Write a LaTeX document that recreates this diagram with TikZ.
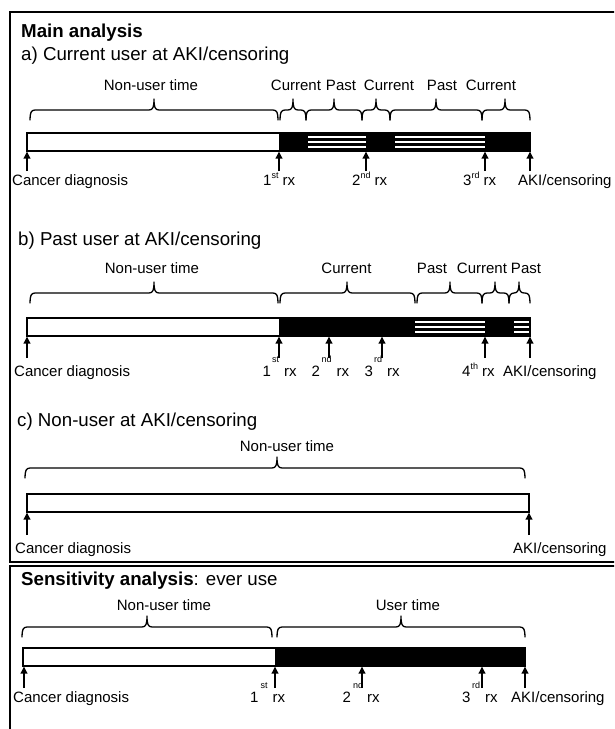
\documentclass[tikz,border=0pt]{standalone}
\usepackage{fontspec}
\setmainfont{Liberation Sans}
\usetikzlibrary{arrows.meta}
\tikzset{
  lbl/.style={font=\fontsize{15}{18}\selectfont, inner sep=0pt, anchor=base},
  lblw/.style={lbl, anchor=base west},
  ttl/.style={font=\fontsize{18.7}{22}\selectfont, inner sep=0pt, anchor=base west},
  bracepath/.style={line width=1.3pt, line cap=round, line join=round},
  upar/.style={line width=1.8pt, -{Triangle[width=6.5pt,length=7pt]}},
  frame/.style={line width=2pt},
  barline/.style={line width=1.6pt},
  stripe/.style={white, line width=1.8pt},
}
% brace: x1, x2, xtip, yline
\newcommand\mybrace[4]{%
  \draw[bracepath] (#1,#4+10) .. controls (#1,#4+3) and (#1+1,#4) .. (#1+5,#4)
    -- (#3-5,#4) .. controls (#3-1,#4) and (#3,#4-3) .. (#3,#4-11)
    .. controls (#3,#4-3) and (#3+1,#4) .. (#3+5,#4)
    -- (#2-5,#4) .. controls (#2-1,#4) and (#2,#4+3) .. (#2,#4+10);}
% striped segment: x1, x2, ytop (bar height 18)
\newcommand\mystripes[3]{%
  \fill[black] (#1,#3) rectangle (#2,#3+18);
  \foreach \d in {3.8,9,14.2} \draw[stripe] (#1,#3+\d) -- (#2,#3+\d);}
\newcommand\lowsup[1]{\raisebox{6.5pt}{\fontsize{9}{9}\selectfont #1}}
\newcommand\highsup[1]{\raisebox{14pt}{\fontsize{9}{9}\selectfont #1}}
\begin{document}
\begin{tikzpicture}[x=1pt,y=-1pt]
\clip (0,0) rectangle (614,729);
\fill[white] (0,0) rectangle (614,729);
% frames
\draw[frame] (700,12) -- (10,12) -- (10,562) -- (700,562);
\draw[frame] (700,566) -- (10,566) -- (10,800);

% ---------- panel a ----------
\node[ttl, font=\fontsize{18.7}{22}\selectfont\bfseries] (tmain) at (21,37) {Main analysis};
\node[ttl] (ta) at (21,60) {a) Current user at AKI/censoring};
\node[lbl] (an) at (151,90) {Non-user time};
\node[lbl] (ac1) at (296,90) {Current};
\node[lbl] (ap1) at (341,90) {Past};
\node[lbl] (ac2) at (389,90) {Current};
\node[lbl] (ap2) at (442,90) {Past};
\node[lbl] (ac3) at (491,90) {Current};
\mybrace{30}{278}{154}{110}
\mybrace{280}{306}{293}{110}
\mybrace{306}{362}{334}{110}
\mybrace{362}{390}{376}{110}
\mybrace{390}{482}{436}{110}
\mybrace{482}{530}{505}{110}
\fill[black] (279,133) rectangle (530,151);
\mystripes{308}{366}{133}
\mystripes{395}{485}{133}
\draw[barline] (27,133) rectangle (530,151);
\foreach \x in {27,279,366,485,530} \draw[upar] (\x,171) -- (\x,151.5);
\node[lblw] (ad) at (12,185) {Cancer diagnosis};
\node[lblw] (ar1) at (263,185) {1\lowsup{st} rx};
\node[lblw] (ar2) at (352,185) {2\lowsup{nd} rx};
\node[lblw] (ar3) at (463,185) {3\lowsup{rd} rx};
\node[lblw] (aaki) at (518,185) {AKI/censoring};

% ---------- panel b ----------
\node[ttl] (tb) at (18,245) {b) Past user at AKI/censoring};
\node[lbl] (bn) at (152,273) {Non-user time};
\node[lbl] (bc1) at (346.5,273) {Current};
\node[lbl] (bp1) at (432,273) {Past};
\node[lbl] (bc2) at (482,273) {Current};
\node[lbl] (bp2) at (526,273) {Past};
\mybrace{30}{278}{154}{293}
\mybrace{280}{415}{347}{293}
\mybrace{417}{482}{450}{293}
\mybrace{482}{509}{495}{293}
\mybrace{509}{530}{519}{293}
\fill[black] (279,318) rectangle (530,336);
\mystripes{415}{485}{318}
\mystripes{514}{530}{318}
\draw[barline] (27,318) rectangle (530,336);
\foreach \x in {27,279,329,382,485,530} \draw[upar] (\x,358) -- (\x,336.5);
\node[lblw] (bd) at (14,376) {Cancer diagnosis};
\node[lblw] (br1) at (262.5,376) {1\hspace{1pt}\highsup{st}\hspace{5pt}rx};
\node[lblw] (br2) at (311.5,376) {2\hspace{1.5pt}\highsup{nd}\hspace{5pt}rx};
\node[lblw] (br3) at (364.5,376) {3\hspace{1pt}\highsup{rd}\hspace{5pt}rx};
\node[lblw] (br4) at (462,376) {4\lowsup{th} rx};
\node[lblw] (baki) at (503,376) {AKI/censoring};

% ---------- panel c ----------
\node[ttl] (tc) at (17,426) {c) Non-user at AKI/censoring};
\node[lbl] (cn) at (287,451) {Non-user time};
\mybrace{25}{525}{277}{468}
\draw[barline] (27,494) rectangle (529,512);
\foreach \x in {27,529} \draw[upar] (\x,535) -- (\x,512.5);
\node[lblw] (cd) at (15,553) {Cancer diagnosis};
\node[lblw] (caki) at (513,553) {AKI/censoring};

% ---------- sensitivity ----------
\node[ttl] (ts) at (21,585) {\textbf{Sensitivity analysis}: ever use};
\node[lbl] (sn) at (164,610) {Non-user time};
\node[lbl] (su) at (408,610) {User time};
\mybrace{22}{272}{147}{627}
\mybrace{277}{525}{401}{627}
\fill[black] (275,648) rectangle (525,666);
\draw[barline] (23,648) rectangle (525,666);
\foreach \x in {24,275,362,482,525} \draw[upar] (\x,688) -- (\x,666.5);
\node[lblw] (sd) at (13,702) {Cancer diagnosis};
\node[lblw] (sr1) at (250,702) {1\hspace{2pt}\highsup{st}\hspace{5pt}rx};
\node[lblw] (sr2) at (342.5,702) {2\hspace{2pt}\highsup{nd}\hspace{4pt}rx};
\node[lblw] (sr3) at (462,702) {3\hspace{1.5pt}\highsup{rd}\hspace{5pt}rx};
\node[lblw] (saki) at (511,702) {AKI/censoring};
\end{tikzpicture}
\end{document}
